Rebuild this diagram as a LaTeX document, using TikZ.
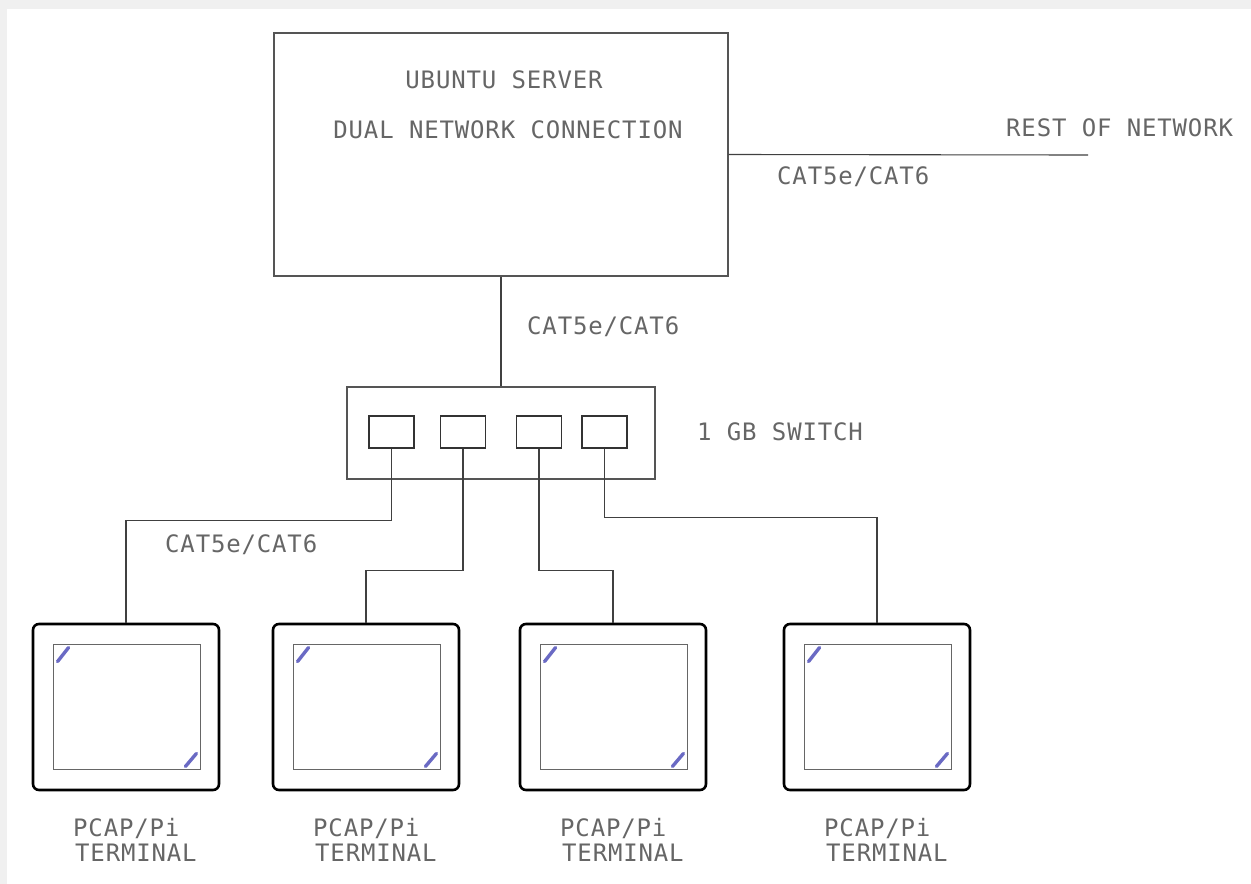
\documentclass[tikz,border=0pt]{standalone}
\usepackage{fontspec}
\usetikzlibrary{positioning}
\newfontfamily\cadfont{DejaVu Sans Mono}[LetterSpace=3.5]
\definecolor{bgframe}{HTML}{F0F0F0}
\definecolor{inkline}{HTML}{555555}
\definecolor{penmark}{HTML}{6A6AC4}

\begin{document}
\begin{tikzpicture}[x=1pt,y=-1pt,
		box/.style={draw=inkline, line width=1.2pt, inner sep=0pt},
		port/.style={draw=black!80, line width=1.1pt, inner sep=0pt, minimum width=45pt, minimum height=32pt},
		lbl/.style={font=\cadfont\fontsize{24}{27}\selectfont, text=black!60, inner sep=0pt},
		wire/.style={draw=black!75, line width=1.1pt},
		monitor/.style={draw=black, line width=2.6pt, rounded corners=6pt, inner sep=0pt, minimum width=186pt, minimum height=166pt},
		screen/.style={draw=black!60, line width=0.9pt, inner sep=0pt, minimum width=147pt, minimum height=125pt},
		penstroke/.style={draw=penmark, line width=3.4pt, line cap=round}]
		\useasboundingbox (0,0) rectangle (1251,884);
		\fill[bgframe] (0,0) rectangle (1251,884);
		\fill[white] (7,9) rectangle (1251,884);
		
		% server
		\node[box, minimum width=454pt, minimum height=243pt] (server) at (501,154.5) {};
		\node[lbl] (srvname) at (504,80) {UBUNTU SERVER};
		\node[lbl] (srvdual) at (508,130) {DUAL NETWORK CONNECTION};
		
		\coordinate (netend) at (1088,155);
		\draw[wire] (server.east) -- (netend);
		\node[lbl, anchor=west] (restnet) at (1006,128) {REST OF NETWORK};
		\node[lbl, anchor=west] (catnet) at (777,177) {CAT5e/CAT6};
		
		% switch
		\node[box, minimum width=308pt, minimum height=92pt] (switch) at (501,433) {};
		\node[lbl, anchor=west] (swname) at (697,432) {1 GB SWITCH};
		\draw[wire] (server.south) -- (switch.north);
		\node[lbl, anchor=west] (catsw) at (527,327) {CAT5e/CAT6};
		
		\node[port] (p1) at (391.5,432) {};
		\node[port] (p2) at (463,432) {};
		\node[port] (p3) at (539,432) {};
		\node[port] (p4) at (604.5,432) {};
		
		% terminals
		\foreach \i/\mx in {1/33,2/273,3/520,4/784} {
			\node[monitor] (mon\i) at (\mx+93,707) {};
			\node[screen] (scr\i) at (\mx+93.5,706.5) {};
			\draw[penstroke, shift={(scr\i.north west)}] (5,18) -- (16,4);
			\draw[penstroke, shift={(scr\i.south east)}] (-15,-3) -- (-4,-16);
			\node[lbl, anchor=west] (pcap\i) at (\mx+40,828) {PCAP/Pi};
			\node[lbl, anchor=west] (term\i) at (\mx+42,853) {TERMINAL};
		}
		
		% cables
		\draw[wire] (p1.south) -- ++(0,72) -| (mon1.north);
		\draw[wire] (p2.south) -- ++(0,122) -| (mon2.north);
		\draw[wire] (p3.south) -- ++(0,122) -| (mon3.north);
		\draw[wire] (p4.south) -- ++(0,69) -| (mon4.north);
		\node[lbl, anchor=west] (catterm) at (165,545) {CAT5e/CAT6};
	\end{tikzpicture}
\end{document}
